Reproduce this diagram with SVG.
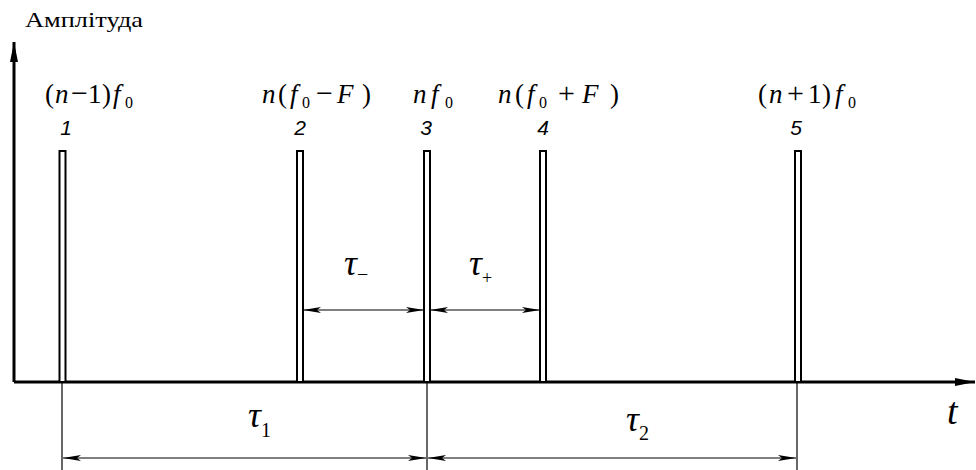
<svg xmlns="http://www.w3.org/2000/svg" width="976" height="470" viewBox="0 0 976 470">
<style>
.ax{stroke:#000;stroke-width:3;fill:none}
.pulse{stroke:#000;stroke-width:2;fill:#fff}
.ext{stroke:#000;stroke-width:1.2;fill:none}
.dim{stroke:#000;stroke-width:1.2;fill:none}
.m{font-family:"Liberation Serif","Times New Roman",serif;font-size:27px;fill:#000}
.i{font-style:italic}
.op{font-size:30px}
.sub{font-size:16px}
.num{font-family:"Liberation Sans",Arial,sans-serif;font-style:italic;font-size:21px;fill:#000;text-anchor:middle}
.tau{font-family:"Liberation Serif","Times New Roman",serif;font-style:italic;font-size:36px;fill:#000}
.ts{font-style:normal;font-size:20px}
.lbl{font-family:"Liberation Serif","Times New Roman",serif;font-size:21px;fill:#000}
</style>
<defs>
<marker id="ah" viewBox="0 0 18 7" refX="18" refY="3.5" markerWidth="18" markerHeight="7" markerUnits="userSpaceOnUse" orient="auto-start-reverse">
<path d="M0,0.5 L18,3.5 L0,6.5 L4,3.5 Z" fill="#000"/>
</marker>
<marker id="axh" viewBox="0 0 20 8" refX="20" refY="4" markerWidth="20" markerHeight="8" markerUnits="userSpaceOnUse" orient="auto">
<path d="M0,0 L20,4 L0,8 Z" fill="#000"/>
</marker>
</defs>

<g id="axes">
<line class="ax" x1="14" y1="382" x2="14" y2="42" marker-end="url(#axh)"/>
<line class="ax" x1="14" y1="382" x2="975" y2="382" marker-end="url(#axh)"/>
<text class="lbl" x="25" y="27" textLength="118" lengthAdjust="spacingAndGlyphs">Амплітуда</text>
<text class="tau" x="947" y="424" style="font-size:38px">t</text>
</g>

<g id="pulse1">
<rect class="pulse" x="59.5" y="151" width="6" height="231"/>
<text class="num" x="66" y="135">1</text>
<text class="m" y="103"><tspan x="45">(</tspan><tspan x="55" class="i">n</tspan><tspan x="71" class="op">−</tspan><tspan x="88">1</tspan><tspan x="102">)</tspan><tspan x="113" class="i">f</tspan><tspan x="125" class="sub" dy="5">0</tspan></text>
</g>
<g id="pulse2">
<rect class="pulse" x="297" y="151" width="6" height="231"/>
<text class="num" x="300" y="135">2</text>
<text class="m" y="103"><tspan x="262" class="i">n</tspan><tspan x="278">(</tspan><tspan x="290" class="i">f</tspan><tspan x="302" class="sub" dy="5">0</tspan><tspan x="316" class="op" dy="-5">−</tspan><tspan x="337" class="i">F</tspan><tspan x="362">)</tspan></text>
</g>
<g id="pulse3">
<rect class="pulse" x="424" y="151" width="6" height="231"/>
<text class="num" x="426" y="135">3</text>
<text class="m" y="103"><tspan x="413" class="i">n</tspan><tspan x="431" class="i">f</tspan><tspan x="445" class="sub" dy="5">0</tspan></text>
</g>
<g id="pulse4">
<rect class="pulse" x="540" y="151" width="6" height="231"/>
<text class="num" x="543" y="135">4</text>
<text class="m" y="103"><tspan x="498" class="i">n</tspan><tspan x="515">(</tspan><tspan x="527" class="i">f</tspan><tspan x="539" class="sub" dy="5">0</tspan><tspan x="558" class="op" dy="-5">+</tspan><tspan x="582" class="i">F</tspan><tspan x="610">)</tspan></text>
</g>
<g id="pulse5">
<rect class="pulse" x="795" y="151" width="6" height="231"/>
<text class="num" x="796" y="135">5</text>
<text class="m" y="103"><tspan x="758">(</tspan><tspan x="769" class="i">n</tspan><tspan x="787" class="op">+</tspan><tspan x="808">1</tspan><tspan x="822">)</tspan><tspan x="835" class="i">f</tspan><tspan x="848" class="sub" dy="5">0</tspan></text>
</g>

<g id="connectors">
<line class="ext" x1="62" y1="382" x2="62" y2="470"/>
<line class="ext" x1="427" y1="382" x2="427" y2="470"/>
<line class="ext" x1="797" y1="382" x2="797" y2="470"/>
<line class="dim" x1="63" y1="458" x2="426" y2="458" marker-start="url(#ah)" marker-end="url(#ah)"/>
<line class="dim" x1="428" y1="458" x2="796" y2="458" marker-start="url(#ah)" marker-end="url(#ah)"/>
<line class="dim" x1="303" y1="310" x2="424" y2="310" marker-start="url(#ah)" marker-end="url(#ah)"/>
<line class="dim" x1="430" y1="310" x2="540" y2="310" marker-start="url(#ah)" marker-end="url(#ah)"/>
</g>

<g id="labels">
<text class="tau" x="344" y="275">τ<tspan class="ts" dy="6">−</tspan></text>
<text class="tau" x="469" y="275">τ<tspan class="ts" style="font-size:18px" dy="9">+</tspan></text>
<text class="tau" x="248" y="427">τ<tspan class="ts" dy="10">1</tspan></text>
<text class="tau" x="626" y="431">τ<tspan class="ts" dy="9">2</tspan></text>
</g>
</svg>
